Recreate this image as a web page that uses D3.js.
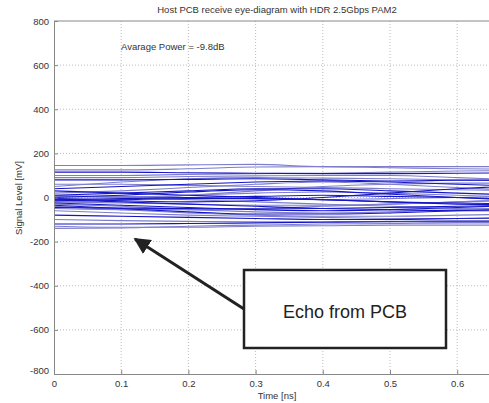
<!DOCTYPE html>
<html lang="en">
<head>
  <meta charset="UTF-8">
  <title>Eye diagram</title>
  <style>
    body { margin: 0; background: #fff; }
    text { font-family: "Liberation Sans", Arial, sans-serif; }
  </style>
</head>
<body>
  <svg id="svg" width="489" height="403"></svg>
  <script src="https://d3js.org/d3.v7.min.js"></script>
  <script>
    // sample times [ns] shared by every trace
    const times = [0, 0.1, 0.2, 0.3, 0.4, 0.5, 0.6, 0.7]
    const xTicks = [0, 0.1, 0.2, 0.3, 0.4, 0.5, 0.6]
    const yTicks = [-800, -600, -400, -200, 0, 200, 400, 600, 800]

    // signal level [mV] of each sweep
    const lightTraces = [
      [145, 145, 148, 150, 140, 140, 140, 140],
      [125, 125, 130, 138, 140, 135, 130, 128],
      [100, 100, 105, 108, 110, 115, 120, 122],
      [90, 90, 95, 98, 100, 100, 90, 80],
      [50, 70, 85, 90, 88, 85, 80, 75],
      [20, 30, 45, 60, 70, 60, 45, 30],
      [-5, 0, 10, 20, 25, 20, 10, 0],
      [-20, -25, -30, -35, -35, -30, -20, -10],
      [-30, -40, -55, -65, -70, -65, -55, -45],
      [-40, -55, -70, -80, -85, -85, -80, -75],
      [-60, -70, -80, -85, -90, -95, -95, -95],
      [-100, -105, -108, -110, -110, -108, -105, -105],
      [-140, -138, -130, -125, -120, -118, -115, -115],
      [-130, -135, -135, -130, -128, -125, -125, -125],
      [10, 0, -10, -20, -30, -40, -50, -55],
      [-20, -10, 10, 30, 50, 60, 65, 65],
      [60, 60, 55, 50, 45, 40, 35, 30],
      [-50, -55, -55, -50, -40, -30, -20, -10],
      [5, 5, 0, -5, -10, -5, 0, 5]
    ]
    const darkTraces = [
      [115, 115, 112, 110, 108, 108, 110, 112],
      [80, 80, 82, 85, 80, 75, 78, 80],
      [40, 50, 60, 70, 75, 70, 60, 50],
      [10, 20, 30, 40, 40, 30, 20, 10],
      [0, 10, 25, 35, 30, 15, 0, -15],
      [-10, -5, 0, 5, 10, 5, 0, -10],
      [-15, -10, -5, -5, -10, -20, -25, -30],
      [-25, -35, -45, -55, -60, -55, -45, -35],
      [-35, -50, -65, -75, -75, -70, -60, -50],
      [-10, -20, -30, -40, -50, -55, -60, -60],
      [-80, -85, -90, -95, -100, -100, -95, -90],
      [-120, -120, -118, -115, -112, -110, -110, -110],
      [30, 20, 10, 0, -10, -20, -30, -35],
      [-5, -15, -20, -15, 0, 20, 40, 55],
      [-45, -48, -50, -52, -50, -45, -40, -35]
    ]

    const plotLeft = 54, plotTop = 21, plotBottom = 374
    const xMax = 0.665
    const xScale = d3.scaleLinear().domain([0, xMax]).range([plotLeft, plotLeft + xMax * 672])
    const yScale = d3.scaleLinear().domain([-800, 800]).range([plotBottom, plotTop])

    const svg = d3.select('#svg')

    // dotted grid
    svg.append('g')
      .selectAll('line')
      .data(xTicks.slice(1))
      .enter()
      .append('line')
      .attr('x1', d => xScale(d)).attr('x2', d => xScale(d))
      .attr('y1', plotTop).attr('y2', plotBottom)
      .attr('stroke', '#bbb').attr('stroke-dasharray', '1,2')
    svg.append('g')
      .selectAll('line')
      .data(yTicks.slice(1, -1))
      .enter()
      .append('line')
      .attr('x1', plotLeft).attr('x2', xScale(xMax))
      .attr('y1', d => yScale(d)).attr('y2', d => yScale(d))
      .attr('stroke', '#bbb').attr('stroke-dasharray', '1,2')

    // traces
    const line = d3.line()
      .x((d, i) => xScale(times[i]))
      .y(d => yScale(d))
      .curve(d3.curveMonotoneX)

    svg.append('g')
      .selectAll('path')
      .data(lightTraces)
      .enter()
      .append('path')
      .attr('d', line)
      .attr('fill', 'none')
      .attr('stroke', '#7d7dcc')
      .attr('stroke-width', 1.1)
    svg.append('g')
      .selectAll('path')
      .data(darkTraces)
      .enter()
      .append('path')
      .attr('d', line)
      .attr('fill', 'none')
      .attr('stroke', '#1515c8')
      .attr('stroke-width', 1.1)

    // axes (plain hyphen minus like the original)
    const xAxis = d3.axisBottom(xScale).tickValues(xTicks).tickSizeInner(-4).tickSizeOuter(0).tickPadding(6)
      .tickFormat(d => d === 0 ? '0' : d.toFixed(1))
    const yAxis = d3.axisLeft(yScale).tickValues(yTicks).tickSizeInner(-4).tickSizeOuter(0).tickPadding(5)
      .tickFormat(d => String(d))

    const gx = svg.append('g').attr('transform', `translate(0,${plotBottom})`).call(xAxis)
    const gy = svg.append('g').attr('transform', `translate(${plotLeft},0)`).call(yAxis)
    ;[gx, gy].forEach(g => {
      g.selectAll('path, line').attr('stroke', '#888')
      g.selectAll('text').attr('fill', '#333').style('font-size', '9.5px')
    })
    gy.selectAll('.tick').filter(d => d === -800).select('text').attr('dy', '-0.1em')
    svg.append('line')
      .attr('x1', plotLeft).attr('x2', xScale(xMax))
      .attr('y1', plotTop).attr('y2', plotTop)
      .attr('stroke', '#888')

    // texts
    svg.append('text')
      .text('Host PCB receive eye-diagram with HDR 2.5Gbps PAM2')
      .attr('x', 277).attr('y', 13)
      .attr('text-anchor', 'middle')
      .attr('fill', '#333')
      .style('font-size', '9.5px')
    svg.append('text')
      .text('Avarage Power = -9.8dB')
      .attr('x', 121).attr('y', 50)
      .attr('fill', '#333')
      .style('font-size', '9.5px')
    svg.append('text')
      .text('Time [ns]')
      .attr('x', 277).attr('y', 399)
      .attr('text-anchor', 'middle')
      .attr('fill', '#333')
      .style('font-size', '9.5px')
    svg.append('text')
      .text('Signal Level [mV]')
      .attr('transform', 'translate(22,198) rotate(-90)')
      .attr('text-anchor', 'middle')
      .attr('fill', '#333')
      .style('font-size', '9.5px')

    // annotation
    svg.append('defs').append('marker')
      .attr('id', 'head')
      .attr('viewBox', '0 0 10 10')
      .attr('refX', 9).attr('refY', 5)
      .attr('markerWidth', 5.5).attr('markerHeight', 5.5)
      .attr('orient', 'auto')
      .append('path')
      .attr('d', 'M0,0 L10,5 L0,10 Z')
      .attr('fill', '#222')
    svg.append('line')
      .attr('x1', 244).attr('y1', 309)
      .attr('x2', 135).attr('y2', 239)
      .attr('stroke', '#222').attr('stroke-width', 3)
      .attr('marker-end', 'url(#head)')
    svg.append('rect')
      .attr('x', 244).attr('y', 270)
      .attr('width', 202).attr('height', 78)
      .attr('fill', '#fff')
      .attr('stroke', '#222').attr('stroke-width', 2.5)
    svg.append('text')
      .text('Echo from PCB')
      .attr('x', 345).attr('y', 318)
      .attr('text-anchor', 'middle')
      .attr('fill', '#222')
      .style('font-size', '18px')
  </script>
</body>
</html>
